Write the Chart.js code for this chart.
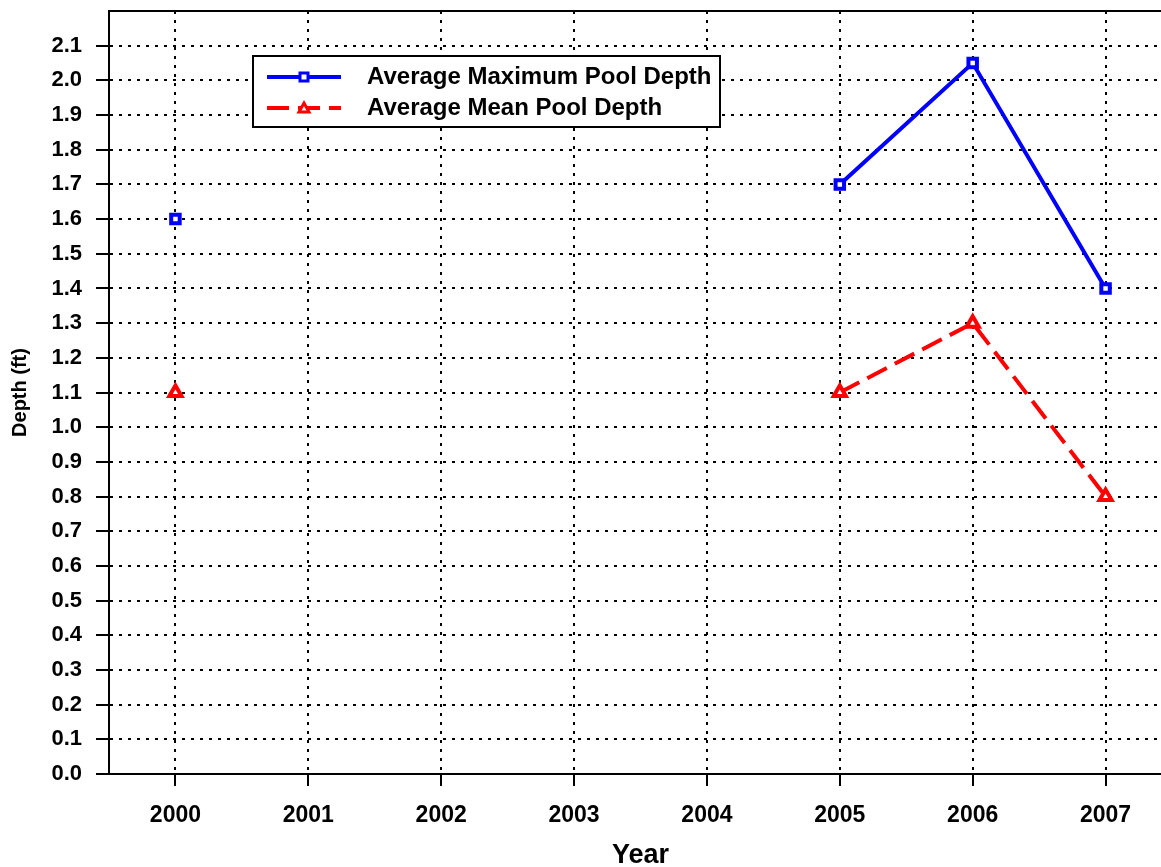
<!DOCTYPE html>
<html>
<head>
<meta charset="utf-8">
<script src="https://cdn.jsdelivr.net/npm/chart.js@4.4.1/dist/chart.umd.min.js"></script>
<style>
  html, body { margin: 0; padding: 0; background: #fff; overflow: hidden; }
  #wrap { width: 1183px; height: 867px; }
</style>
</head>
<body>
<div id="wrap"><canvas id="myChart" width="1183" height="867"></canvas></div>
<script>
// values
const years = ['2000', '2001', '2002', '2003', '2004', '2005', '2006', '2007'];
const maxDepth = [1.6, null, null, null, null, 1.7, 2.05, 1.4];
const meanDepth = [1.1, null, null, null, null, 1.1, 1.3, 0.8];
const seriesNames = ['Average Maximum Pool Depth', 'Average Mean Pool Depth'];

const FONT = 'Arial, "Liberation Sans", Helvetica, sans-serif';

// box legend + top/left frame
const framePlugin = {
  id: 'frame',
  afterDraw(chart) {
    const ctx = chart.ctx, a = chart.chartArea;
    ctx.save();
    ctx.strokeStyle = '#000';
    ctx.lineWidth = 2;
    ctx.setLineDash([]);
    ctx.strokeRect(a.left, a.top, a.right - a.left + 10, a.bottom - a.top);

    // legend
    const bx = 253, by = 56, bw = 467, bh = 71;
    ctx.fillStyle = '#fff';
    ctx.fillRect(bx, by, bw, bh);
    ctx.strokeRect(bx, by, bw, bh);
    const rows = [77, 108];
    chart.data.datasets.forEach((ds, i) => {
      const y = rows[i];
      ctx.strokeStyle = ds.borderColor;
      ctx.lineWidth = 4;
      ctx.setLineDash(ds.borderDash || []);
      ctx.beginPath();
      ctx.moveTo(267, y);
      ctx.lineTo(341, y);
      ctx.stroke();
      ctx.setLineDash([]);
      ctx.lineWidth = 3;
      ctx.fillStyle = '#fff';
      if (ds.pointStyle === 'rect') {
        ctx.fillRect(300, y - 4, 8, 8);
        ctx.strokeRect(300, y - 4, 8, 8);
      } else {
        ctx.beginPath();
        ctx.moveTo(304, y - 5);
        ctx.lineTo(309, y + 4);
        ctx.lineTo(299, y + 4);
        ctx.closePath();
        ctx.fill();
        ctx.stroke();
      }
      ctx.fillStyle = '#000';
      ctx.font = 'bold 24px ' + FONT;
      ctx.textBaseline = 'middle';
      ctx.textAlign = 'left';
      ctx.fillText(ds.label, 367, y);
    });
    ctx.restore();
  }
};

const config = {
  type: 'line',
  data: {
    labels: years,
    datasets: [
      {
        label: seriesNames[0],
        data: maxDepth,
        borderColor: '#0000ff',
        backgroundColor: '#ffffff',
        borderWidth: 4,
        pointStyle: 'rect',
        pointRadius: 6,
        pointBorderWidth: 4,
        spanGaps: false,
        tension: 0
      },
      {
        label: seriesNames[1],
        data: meanDepth,
        borderColor: '#ff0000',
        backgroundColor: '#ffffff',
        borderWidth: 4,
        borderDash: [22, 9],
        pointStyle: 'triangle',
        pointRadius: 7,
        pointBorderWidth: 4,
        spanGaps: false,
        tension: 0
      }
    ]
  },
  options: {
    responsive: false,
    animation: false,
    layout: { padding: { top: 10, right: 0, bottom: 0, left: 0 } },
    plugins: {
      legend: { display: false },
      tooltip: { enabled: false }
    },
    scales: {
      x: {
        type: 'category',
        offset: true,
        grid: {
          offset: false,
          color: '#000',
          lineWidth: 2,
          drawTicks: true,
          tickLength: 12,
          tickColor: '#000',
          tickWidth: 2,
          tickBorderDash: []
        },
        border: { display: true, color: '#000', width: 2, dash: [3, 6] },
        ticks: {
          color: '#000',
          padding: 16,
          font: { family: FONT, size: 23, weight: 'bold' },
          maxRotation: 0
        },
        title: {
          display: true,
          text: 'Year',
          color: '#000',
          padding: { top: 7, bottom: -5 },
          font: { family: FONT, size: 27, weight: 'bold' }
        },
        afterFit(scale) {
          scale.height = 93;
          scale.paddingLeft = 0;
          scale.paddingRight = 0;
        }
      },
      y: {
        min: 0,
        max: 2.2,
        grid: {
          color: '#000',
          lineWidth: 2,
          drawTicks: true,
          tickLength: 13,
          tickColor: (c) => (c.tick && c.tick.value > 2.15 ? 'rgba(0,0,0,0)' : '#000'),
          tickWidth: 2,
          tickBorderDash: []
        },
        border: { display: true, color: '#000', width: 2, dash: [3, 6] },
        ticks: {
          stepSize: 0.1,
          color: '#000',
          padding: 14,
          font: { family: FONT, size: 22, weight: 'bold' },
          callback: (v) => (v > 2.15 ? '' : Number(v).toFixed(1))
        },
        title: {
          display: true,
          text: 'Depth (ft)',
          color: '#000',
          padding: { top: 8, bottom: 6 },
          font: { family: FONT, size: 20, weight: 'bold' }
        },
        afterFit(scale) {
          scale.width = 109;
          scale.paddingTop = 0;
          scale.paddingBottom = 0;
        }
      }
    }
  },
  plugins: [framePlugin]
};

let myChart = new Chart(document.getElementById('myChart'), config);
</script>
</body>
</html>
